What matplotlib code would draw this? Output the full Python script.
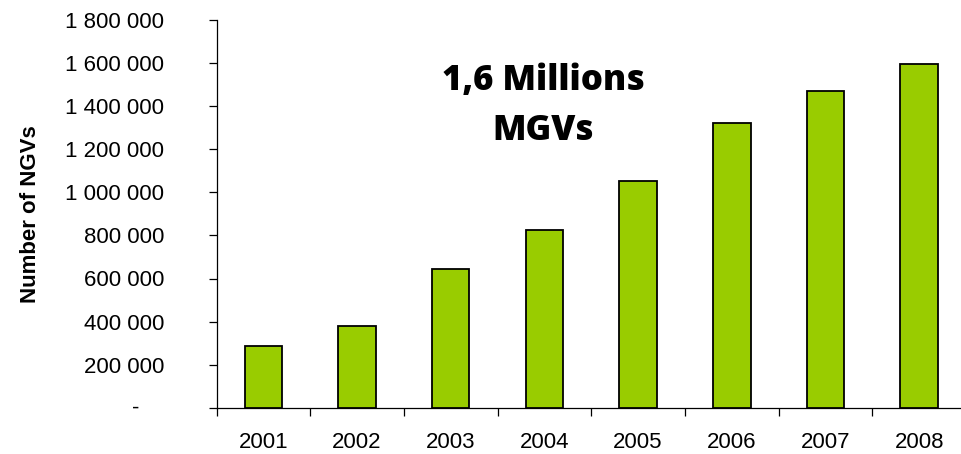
import matplotlib
matplotlib.use("Agg")
import matplotlib.pyplot as plt
import matplotlib.transforms as mtransforms
import numpy as np

years = ["2001", "2002", "2003", "2004", "2005", "2006", "2007", "2008"]
ngvs = [287000, 381000, 644000, 826000, 1052000, 1322000, 1470000, 1592000]
yticks = [0, 200000, 400000, 600000, 800000, 1000000, 1200000, 1400000, 1600000, 1800000]
annotation_lines = ["1,6 Millions", "MGVs"]

W, H = 961, 454
fig = plt.figure(figsize=(W / 100, H / 100), dpi=100)
ax = fig.add_axes([216.5 / W, 1 - 408 / H, (966 - 216.5) / W, (408 - 19.5) / H])

x = np.arange(len(years))
ax.bar(x, ngvs, width=0.4, color="#99CC00", edgecolor="black", linewidth=1.3, zorder=3)

ax.set_xlim(-0.5, len(years) - 0.5)
ax.set_ylim(0, 1800000)

for s in ["top", "right"]:
    ax.spines[s].set_visible(False)
for s in ["left", "bottom"]:
    ax.spines[s].set_linewidth(0.9)
    ax.spines[s].set_color("black")

# x: tick marks at category boundaries, labels at centres
ax.set_xticks(np.arange(-0.5, len(years), 1.0))
ax.set_xticklabels([])
ax.set_xticks(x, minor=True)
ax.set_xticklabels(years, minor=True, fontsize=16, fontfamily="Liberation Sans")
ax.tick_params(axis="x", which="major", direction="out", length=5.8, width=0.9)
ax.tick_params(axis="x", which="minor", length=0, pad=17)

def fmt(v):
    if v == 0:
        return ""
    return f"{v:,}".replace(",", " ")

ax.set_yticks(yticks)
ax.set_yticklabels([fmt(v) for v in yticks], fontsize=16, fontfamily="Liberation Sans")
ax.tick_params(axis="y", direction="out", length=5.8, width=0.9, pad=32)

# zero label shown as dash (accounting format)
off = mtransforms.offset_copy(ax.get_yaxis_transform(), fig=fig, x=-81 * 72 / 100, y=0, units="points")
ax.text(0, 0, "-", transform=off, ha="center", va="center", fontsize=16, fontfamily="Liberation Sans")

ax.set_ylabel("Number of NGVs", fontsize=16, fontweight="bold", fontfamily="Liberation Sans")
ax.yaxis.set_label_coords(-(216.5 - 41) / (966 - 216.5), 0.5)

fig.text(543 / W, 1 - 90 / H, annotation_lines[0], ha="center", va="baseline",
         fontsize=25, fontweight="heavy", fontfamily="Open Sans")
fig.text(543 / W, 1 - 140 / H, annotation_lines[1], ha="center", va="baseline",
         fontsize=25, fontweight="heavy", fontfamily="Open Sans")

fig.savefig("out.png", dpi=100)
